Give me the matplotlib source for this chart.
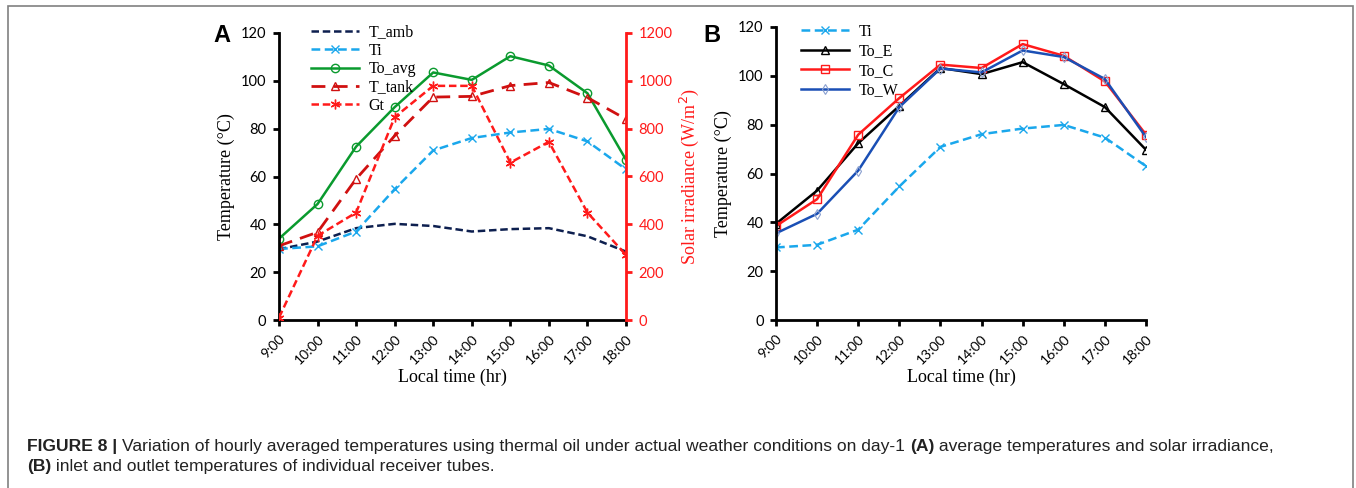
import matplotlib
matplotlib.use("Agg")
import matplotlib.pyplot as plt
from matplotlib.patches import Rectangle

hours = ["9:00", "10:00", "11:00", "12:00", "13:00", "14:00", "15:00", "16:00", "17:00", "18:00"]

# panel A
t_amb = [29.6, 32.8, 38.4, 40.2, 39.3, 37.0, 38.0, 38.4, 35.0, 28.6]
ti = [29.7, 30.8, 37.0, 54.7, 70.9, 76.1, 78.4, 79.9, 74.7, 63.0]
to_avg = [34.0, 48.5, 72.5, 89.0, 103.5, 100.4, 110.3, 106.4, 94.8, 67.0]
t_tank = [31.0, 36.7, 59.0, 77.0, 93.2, 93.5, 98.0, 99.3, 93.0, 84.0]
gt = [10, 352, 449, 848, 979, 979, 658, 745, 449, 272]

# panel B
to_e = [39.4, 53.0, 72.4, 87.7, 103.2, 100.7, 105.6, 96.6, 87.2, 69.7]
to_c = [38.5, 49.5, 75.9, 90.9, 104.6, 103.2, 113.0, 108.2, 97.7, 75.9]
to_w = [35.5, 43.5, 61.2, 87.2, 103.0, 101.4, 110.4, 107.7, 98.7, 74.9]

SERIF = "Liberation Serif"
SANS = "Lato"
NAVY, CYAN, GREEN, DRED, RED, BLUE = "#0d1f4f", "#1aa7ec", "#0a9a2e", "#d01010", "#ff1a1a", "#1a4fb5"

fig = plt.figure(figsize=(13.56, 4.88), dpi=100)
fig.patches.append(Rectangle((8 / 1356, -0.1), 1345 / 1356, 1.1 - 6 / 488, transform=fig.transFigure,
                             fill=False, ec="#808080", lw=1.2))

axA = fig.add_axes([279 / 1356, 1 - 320 / 488, 347 / 1356, 287 / 488])
axB = fig.add_axes([776 / 1356, 1 - 320 / 488, 370 / 1356, 293 / 488])
x = list(range(len(hours)))


def style(ax):
    ax.set_xlim(0, 9)
    ax.set_ylim(0, 120)
    ax.set_yticks(range(0, 121, 20))
    ax.set_xticks(x)
    ax.set_xticklabels(hours, rotation=45, ha="right", rotation_mode="anchor", fontsize=10, family=SANS)
    for lab in ax.get_yticklabels():
        lab.set_family(SANS); lab.set_fontsize(10.5)
    ax.spines[["top", "right"]].set_visible(False)
    for s in ("left", "bottom"):
        ax.spines[s].set_linewidth(2)
    ax.tick_params(width=2, length=4, pad=5)
    ax.set_ylabel("Temperature (°C)", family=SERIF, fontsize=13, labelpad=4)
    ax.set_xlabel("Local time (hr)", family=SERIF, fontsize=13, labelpad=2)


mk = dict(ms=6, mew=1.0, mfc="none")
axA.plot(x, t_amb, color=NAVY, lw=1.8, dashes=(3, 1.5), label="T_amb")
axA.plot(x, ti, color=CYAN, lw=1.8, dashes=(3.5, 1.8), marker="x", label="Ti", **mk)
axA.plot(x, to_avg, color=GREEN, lw=1.8, marker="o", label="To_avg", **mk)
axA.plot(x, t_tank, color=DRED, lw=2.0, dashes=(5, 3), marker="^", label="T_tank", **mk)
axA2 = axA.twinx()
axA2.plot(x, gt, color=RED, lw=1.8, dashes=(3, 1.5), marker=(6, 2, 0), label="Gt", ms=7, mew=1.0)
axA2.set_ylim(0, 1200)
axA2.set_yticks(range(0, 1201, 200))
for s in ("top", "left", "bottom"):
    axA2.spines[s].set_visible(False)
axA2.spines["right"].set_color(RED)
axA2.spines["right"].set_linewidth(2)
axA2.tick_params(colors=RED, width=2, length=4, pad=5)
for lab in axA2.get_yticklabels():
    lab.set_family(SANS); lab.set_fontsize(10.5)
axA2.set_ylabel("Solar irradiance (W/m$^2$)", family=SERIF, fontsize=13, color=RED, labelpad=4)
style(axA)

h1, l1 = axA.get_legend_handles_labels()
h2, l2 = axA2.get_legend_handles_labels()
axA.legend(h1 + h2, l1 + l2, loc="upper left", bbox_to_anchor=(0.05, 1.08), frameon=False,
           prop={"family": SERIF, "size": 11.5}, handlelength=3.0, labelspacing=0.15, handletextpad=0.6)

axB.plot(x, ti, color=CYAN, lw=1.8, dashes=(3.5, 1.8), marker="x", label="Ti", **mk)
axB.plot(x, to_e, color="black", lw=1.8, marker="^", label="To_E", **mk)
axB.plot(x, to_c, color=RED, lw=1.8, marker="s", label="To_C", **mk)
axB.plot(x, to_w, color=BLUE, lw=1.8, marker="d", label="To_W", ms=5, mew=0.8, mfc="none", mec="#8aa0d0")
style(axB)
axB.legend(loc="upper left", bbox_to_anchor=(0.03, 1.06), frameon=False,
           prop={"family": SERIF, "size": 11.5}, handlelength=3.0, labelspacing=0.22, handletextpad=0.6)

fig.text(222 / 1356, 1 - 35 / 488, "A", fontsize=17, fontweight="bold", family="Liberation Sans", ha="center", va="center")
fig.text(712 / 1356, 1 - 35 / 488, "B", fontsize=17, fontweight="bold", family="Liberation Sans", ha="center", va="center")

# caption, bold + regular pieces laid out one after another
r = fig.canvas.get_renderer()
def run(pieces, x0, y0):
    xp = x0
    for txt, bold in pieces:
        t = fig.text(xp, y0, txt, fontsize=12.6, family="Liberation Sans",
                     fontweight="bold" if bold else "normal", va="center", ha="left", color="#222222")
        bb = t.get_window_extent(renderer=r)
        xp += bb.width / fig.bbox.width

run([("FIGURE 8 | ", True),
     ("Variation of hourly averaged temperatures using thermal oil under actual weather conditions on day-1 ", False),
     ("(A)", True), (" average temperatures and solar irradiance,", False)], 27 / 1356, 1 - 446 / 488)
run([("(B)", True), (" inlet and outlet temperatures of individual receiver tubes.", False)], 27 / 1356, 1 - 466 / 488)

fig.savefig("out.png", dpi=100)
